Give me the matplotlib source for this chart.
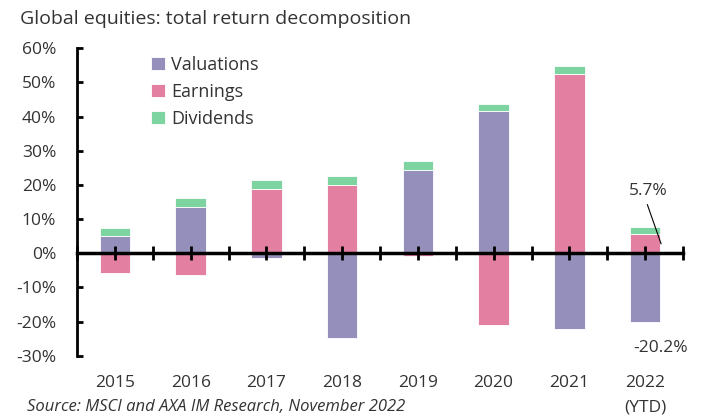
import matplotlib
matplotlib.use("Agg")
import matplotlib.pyplot as plt
import matplotlib.transforms as mtransforms
import numpy as np

plt.rcParams['font.family'] = ['Open Sans', 'DejaVu Sans']

years = ["2015", "2016", "2017", "2018", "2019", "2020", "2021", "2022"]
valuations = [5.0, 13.6, -1.5, -24.9, 24.4, 41.5, -22.3, -20.2]
earnings = [-5.7, -6.3, 18.8, 20.0, -0.7, -20.9, 52.6, 5.7]
dividends = [2.5, 2.7, 2.5, 2.6, 2.5, 2.3, 2.2, 1.9]
yticks = [-30, -20, -10, 0, 10, 20, 30, 40, 50, 60]

c_val = "#9490BB"
c_earn = "#E37FA0"
c_div = "#7DD4A0"
txt = "#333333"

fig = plt.figure(figsize=(7.04, 4.17), dpi=100)
ax = fig.add_axes([77/704, 1-355.7/417, 606/704, (355.7-48.3)/417])
ax.set_axisbelow(False)

x = np.arange(len(years))
val = np.array(valuations)
earn = np.array(earnings)
div = np.array(dividends)

pos_base = np.zeros(len(x))
neg_base = np.zeros(len(x))
handles = {}
for name, vals, col in [("Valuations", val, c_val), ("Earnings", earn, c_earn), ("Dividends", div, c_div)]:
    bottoms = np.where(vals >= 0, pos_base, neg_base)
    b = ax.bar(x, vals, width=0.4, bottom=bottoms, color=col, edgecolor="white", linewidth=0.6, label=name, zorder=1)
    handles[name] = b
    pos_base = pos_base + np.where(vals >= 0, vals, 0)
    neg_base = neg_base + np.where(vals < 0, vals, 0)

ax.set_xlim(-0.5, len(years) - 0.5)
ax.set_ylim(-30, 60)
ax.set_yticks(yticks)
ax.set_yticklabels([f"{t}%" for t in yticks], fontsize=12.5, color=txt)
ax.tick_params(axis='y', direction='in', length=4, width=2, pad=15, colors='black', labelcolor=txt)

for s in ['top', 'right']:
    ax.spines[s].set_visible(False)
ax.spines['left'].set_linewidth(2)
ax.spines['bottom'].set_position(('data', 0))
ax.spines['bottom'].set_linewidth(2.5)
ax.set_xticks(np.arange(-0.5, len(years), 0.5))
ax.tick_params(axis='x', direction='inout', length=10, width=2, labelbottom=False)

trans = mtransforms.blended_transform_factory(ax.transData, fig.transFigure)
for i, y in enumerate(years):
    ax.text(i, 1-383/417, y, transform=trans, ha='center', va='center', fontsize=12.5, color=txt)
ax.text(len(years)-1, 1-407/417, "(YTD)", transform=trans, ha='center', va='center', fontsize=12.5, color=txt)

fig.text(20/704, 1-19/417, "Global equities: total return decomposition", fontsize=14, color=txt, va='center', ha='left')
fig.text(27/704, 1-407/417, "Source: MSCI and AXA IM Research, November 2022", fontsize=12, style='italic', color=txt, va='center', ha='left')

ax.text(7.04, 18.2, "5.7%", ha='center', va='center', fontsize=12.5, color=txt)
ax.plot([7.03, 7.21], [14.2, 2.8], color='black', lw=0.8, zorder=4)
ax.text(7.2, -27.6, "-20.2%", ha='center', va='center', fontsize=12.5, color=txt)

ax.legend(handles=[handles["Valuations"], handles["Earnings"], handles["Dividends"]],
          loc='upper left', bbox_to_anchor=(151/704, 1-56/417), bbox_transform=fig.transFigure,
          frameon=False, fontsize=13, handlelength=0.75, handleheight=0.75, handletextpad=0.35,
          labelspacing=0.5, borderpad=0, borderaxespad=0, labelcolor=txt)

fig.savefig("out.png", dpi=100)
